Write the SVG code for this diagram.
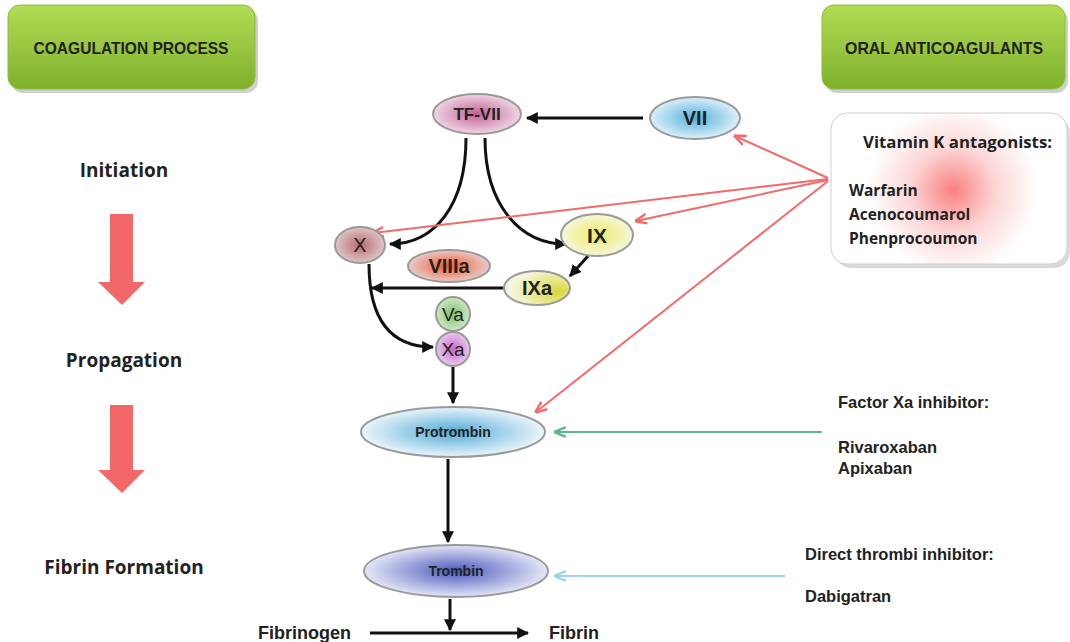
<svg xmlns="http://www.w3.org/2000/svg" width="1070" height="642" viewBox="0 0 1070 642">
<style>
.hdr{font-family:"Liberation Sans",Arial,sans-serif;font-weight:bold;font-size:17px;fill:#222;text-anchor:middle}
.stage{font-family:"Open Sans","Liberation Sans",sans-serif;font-weight:bold;font-size:19px;fill:#222;text-anchor:middle}
.nd{font-family:"Liberation Sans",Arial,sans-serif;font-weight:bold;fill:#222;text-anchor:middle}
.drug{font-family:"Open Sans","Liberation Sans",sans-serif;font-weight:bold;font-size:15.5px;fill:#222}
.inh{font-family:"Liberation Sans",Arial,sans-serif;font-weight:bold;font-size:16.5px;fill:#222}
.blk{fill:none;stroke:#111;stroke-width:3}
.red{fill:none;stroke:#f26a6a;stroke-width:2}
.ell{stroke:#9a9a9a;stroke-width:2}
</style>
<defs>
<linearGradient id="gbox" x1="0" y1="0" x2="0" y2="1"><stop offset="0" stop-color="#b0dc55"/><stop offset="1" stop-color="#7fb12b"/></linearGradient>
<radialGradient id="gTF"><stop offset="0" stop-color="#c25e97"/><stop offset="1" stop-color="#efd6e4"/></radialGradient>
<radialGradient id="gVII"><stop offset="0" stop-color="#55aedc"/><stop offset="1" stop-color="#dcf0f9"/></radialGradient>
<radialGradient id="gX"><stop offset="0" stop-color="#b86a70"/><stop offset="1" stop-color="#dcc6c6"/></radialGradient>
<radialGradient id="gIX"><stop offset="0" stop-color="#ecec6a"/><stop offset="1" stop-color="#f6f6da"/></radialGradient>
<radialGradient id="gIXa" cx="0.8" cy="0.6" r="0.7"><stop offset="0" stop-color="#d8d838"/><stop offset="1" stop-color="#f6f6e0"/></radialGradient>
<radialGradient id="gVIII"><stop offset="0" stop-color="#f25a28"/><stop offset="1" stop-color="#e6cccc"/></radialGradient>
<radialGradient id="gVa"><stop offset="0" stop-color="#7cc06a"/><stop offset="1" stop-color="#cde8c4"/></radialGradient>
<radialGradient id="gXa"><stop offset="0" stop-color="#c66acc"/><stop offset="1" stop-color="#e8c8ec"/></radialGradient>
<radialGradient id="gPro"><stop offset="0" stop-color="#4eaad6"/><stop offset="1" stop-color="#eaf5fb"/></radialGradient>
<radialGradient id="gTro"><stop offset="0" stop-color="#4a58bc"/><stop offset="1" stop-color="#e4e6f6"/></radialGradient>
<radialGradient id="gVK" gradientUnits="userSpaceOnUse" cx="953" cy="190" r="85"><stop offset="0" stop-color="#f98080"/><stop offset="0.5" stop-color="#fcd6d6"/><stop offset="1" stop-color="#ffffff"/></radialGradient>
<marker id="ab" viewBox="0 0 10 10" refX="9" refY="5" markerWidth="4" markerHeight="4" orient="auto"><path d="M0,0 L10,5 L0,10 z" fill="#111"/></marker>
<marker id="ar" viewBox="0 0 10 10" refX="9" refY="5" markerWidth="6" markerHeight="6" orient="auto"><path d="M0,1 L10,5 L0,9" fill="none" stroke="#f26a6a" stroke-width="2"/></marker>
<marker id="ag" viewBox="0 0 10 10" refX="9" refY="5" markerWidth="6" markerHeight="6" orient="auto"><path d="M0,1 L10,5 L0,9" fill="none" stroke="#5cb88a" stroke-width="2"/></marker>
<marker id="al" viewBox="0 0 10 10" refX="9" refY="5" markerWidth="6" markerHeight="6" orient="auto"><path d="M0,1 L10,5 L0,9" fill="none" stroke="#9fd4ec" stroke-width="2"/></marker>
</defs>
<rect width="1070" height="642" fill="#fff"/>

<g id="hdr-left">
<rect x="11" y="9" width="247" height="84" rx="12" fill="#cfcfcf"/>
<rect x="8" y="5" width="247" height="84" rx="12" fill="url(#gbox)" stroke="#8cbc3c"/>
<text class="hdr" x="131" y="54" textLength="195" lengthAdjust="spacingAndGlyphs">COAGULATION PROCESS</text>
</g>
<g id="hdr-right">
<rect x="825" y="9" width="243" height="84" rx="12" fill="#cfcfcf"/>
<rect x="822" y="5" width="243" height="84" rx="12" fill="url(#gbox)" stroke="#8cbc3c"/>
<text class="hdr" x="944" y="54" textLength="198" lengthAdjust="spacingAndGlyphs">ORAL ANTICOAGULANTS</text>
</g>

<g id="stages">
<text class="stage" x="124" y="177">Initiation</text>
<path d="M110,214 H133 V282 H145 L122,305 L98,282 H110 Z" fill="#f26868"/>
<text class="stage" x="124" y="367">Propagation</text>
<path d="M110,405 H133 V470 H145 L122,493 L98,470 H110 Z" fill="#f26868"/>
<text class="stage" x="124" y="574">Fibrin Formation</text>
</g>

<g id="connectors">
<line class="blk" x1="643" y1="118" x2="527" y2="118" marker-end="url(#ab)"/>
<path class="blk" d="M466,138 C466,205 435,244 390,244" marker-end="url(#ab)"/>
<path class="blk" d="M485,138 C485,205 520,244 566,244" marker-end="url(#ab)"/>
<line class="blk" x1="588" y1="256" x2="570" y2="276" stroke-width="2.5" marker-end="url(#ab)"/>
<line class="blk" x1="505" y1="288" x2="372" y2="288" marker-end="url(#ab)"/>
<path class="blk" d="M369,264 C369,325 395,347 433,347" marker-end="url(#ab)"/>
<line class="blk" x1="453" y1="367" x2="453" y2="403" marker-end="url(#ab)"/>
<line class="blk" x1="448" y1="459" x2="448" y2="542" marker-end="url(#ab)"/>
<line class="blk" x1="450" y1="599" x2="450" y2="630" marker-end="url(#ab)"/>
<line class="blk" x1="370" y1="633" x2="528" y2="633" marker-end="url(#ab)"/>
<line class="red" x1="828" y1="178" x2="735" y2="136" marker-end="url(#ar)"/>
<line class="red" x1="828" y1="179" x2="373" y2="233" marker-end="url(#ar)"/>
<line class="red" x1="828" y1="180" x2="636" y2="221" marker-end="url(#ar)"/>
<line class="red" x1="828" y1="181" x2="536" y2="412" marker-end="url(#ar)"/>
<line x1="822" y1="432" x2="555" y2="432" stroke="#5cb88a" stroke-width="2" marker-end="url(#ag)"/>
<line x1="785" y1="576" x2="555" y2="576" stroke="#9fd4ec" stroke-width="2" marker-end="url(#al)"/>
</g>

<g id="n-TFVII"><ellipse class="ell" cx="477" cy="114" rx="44" ry="20" fill="url(#gTF)"/><text class="nd" x="477" y="120" font-size="17">TF-VII</text></g>
<g id="n-VII"><ellipse class="ell" cx="695" cy="118" rx="45" ry="21" fill="url(#gVII)"/><text class="nd" x="695" y="125" font-size="20">VII</text></g>
<g id="n-X"><ellipse class="ell" cx="360" cy="245" rx="25" ry="18" fill="url(#gX)"/><text x="360" y="252" font-size="20" text-anchor="middle" font-family="Liberation Sans,Arial,sans-serif" fill="#222">X</text></g>
<g id="n-IX"><ellipse class="ell" cx="597" cy="235" rx="36" ry="21" fill="url(#gIX)"/><text class="nd" x="597" y="243" font-size="21">IX</text></g>
<g id="n-VIIIa"><ellipse class="ell" cx="449" cy="266" rx="41" ry="16" fill="url(#gVIII)"/><text class="nd" x="449" y="273" font-size="20">VIIIa</text></g>
<g id="n-IXa"><ellipse class="ell" cx="537" cy="288" rx="33" ry="17" fill="url(#gIXa)"/><text class="nd" x="537" y="295" font-size="20">IXa</text></g>
<g id="n-Va"><ellipse class="ell" cx="453" cy="314" rx="17" ry="17" fill="url(#gVa)"/><text x="453" y="321" font-size="19" text-anchor="middle" font-family="Liberation Sans,Arial,sans-serif" fill="#222">Va</text></g>
<g id="n-Xa"><ellipse class="ell" cx="453" cy="349" rx="17" ry="17" fill="url(#gXa)"/><text x="453" y="356" font-size="19" text-anchor="middle" font-family="Liberation Sans,Arial,sans-serif" fill="#222">Xa</text></g>
<g id="n-Protrombin"><ellipse class="ell" cx="453" cy="432" rx="92" ry="25" fill="url(#gPro)"/><text class="nd" x="453" y="437" font-size="14">Protrombin</text></g>
<g id="n-Trombin"><ellipse class="ell" cx="456" cy="571" rx="92" ry="26" fill="url(#gTro)"/><text class="nd" x="456" y="576" font-size="14">Trombin</text></g>
<g id="n-fibrin">
<text x="258" y="639" font-size="18" font-weight="bold" font-family="Liberation Sans,Arial,sans-serif" fill="#222">Fibrinogen</text>
<text x="549" y="639" font-size="18" font-weight="bold" font-family="Liberation Sans,Arial,sans-serif" fill="#222">Fibrin</text>
</g>

<g id="n-VKA">
<rect x="835" y="117" width="235" height="151" rx="16" fill="#dadada"/>
<rect x="831" y="113" width="236" height="151" rx="16" fill="url(#gVK)" stroke="#cfcfcf"/>
<text class="drug" x="863" y="148" textLength="189" lengthAdjust="spacingAndGlyphs">Vitamin K antagonists:</text>
<text class="drug" x="849" y="196">Warfarin</text>
<text class="drug" x="849" y="220">Acenocoumarol</text>
<text class="drug" x="849" y="244">Phenprocoumon</text>
</g>
<g id="n-FXa">
<text class="inh" x="838" y="408">Factor Xa inhibitor:</text>
<text class="inh" x="838" y="453">Rivaroxaban</text>
<text class="inh" x="838" y="474">Apixaban</text>
</g>
<g id="n-DTI">
<text class="inh" x="805" y="560">Direct thrombi inhibitor:</text>
<text class="inh" x="805" y="602">Dabigatran</text>
</g>
</svg>
